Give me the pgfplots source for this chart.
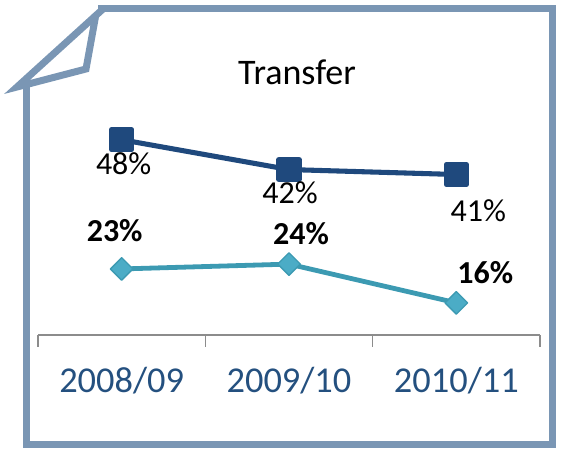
\documentclass[border=0pt]{standalone}
\usepackage{pgfplots}
\pgfplotsset{compat=1.18}
\usepackage{pgfplotstable}
\usepackage{fontspec}
\setmainfont{Carlito}

\definecolor{framecol}{HTML}{7A96B4}
\definecolor{darkser}{HTML}{1F497D}
\definecolor{tealline}{HTML}{3C9AB2}
\definecolor{tealmark}{HTML}{4BACC6}
\definecolor{ticktext}{HTML}{24507F}
\definecolor{axisgray}{HTML}{8C8C8C}

% x = category index, y = value, dx/dy = label offset in px (dy up is positive)
\pgfplotstableread{
x y dx dy
0 48 2 -24
1 42 1 -23
2 41 22 -36
}\darktab
\pgfplotstableread{
x y dx dy
0 23 -7 38
1 24 12 31
2 16 29 30
}\tealtab

\begin{document}
\begin{tikzpicture}
\useasboundingbox (0,0) rectangle (420.75pt,336.75pt);

% frame with folded corner (px coordinates, y down)
\begin{scope}[x=0.75pt, y=-0.75pt, shift={(0pt,336.75pt)}]
  \draw[framecol, line width=5.25pt, line join=miter]
    (26,82) -- (26,445) -- (552,445) -- (552,9) -- (98,9);
  \draw[framecol, line width=5.25pt, line join=miter]
    (103,9) -- (17,87) -- (86,69) -- (96,14);
  \node[font=\fontsize{27}{30}\selectfont] at (297,72) {Transfer};
\end{scope}

\begin{axis}[
  at={(28.5pt,85.5pt)}, anchor=south west,
  scale only axis, width=376.5pt, height=176.25pt,
  xmin=-0.5, xmax=2.5, ymin=8.7, ymax=56,
  axis x line*=bottom, axis y line=none,
  x axis line style={-, axisgray, line width=1pt},
  xtick={0,1,2},
  xticklabels={2008/09,2009/10,2010/11},
  major tick length=0pt,
  minor xtick={-0.5,0.5,1.5,2.5},
  minor tick length=9pt,
  tick align=outside,
  minor tick style={axisgray, line width=1pt},
  xticklabel style={anchor=center, yshift=-34pt, text=ticktext,
    font=\fontsize{27.3}{30}\selectfont},
  /pgf/number format/assume math mode=true,
  clip=false,
]
  \addplot[darkser, line width=3.8pt, line join=round,
    mark=square*, mark size=7.5pt, mark options={solid, fill=darkser},
    visualization depends on={\thisrow{dx} \as \dx},
    visualization depends on={\thisrow{dy} \as \dy},
    point meta=explicit,
    nodes near coords={\pgfmathprintnumber{\pgfplotspointmeta}\%},
    nodes near coords style={anchor=center, black,
      font=\fontsize{24}{28}\selectfont,
      xshift=\dx*0.75pt, yshift=\dy*0.75pt}]
    table[x=x, y=y, meta=y] {\darktab};
\end{axis}

\begin{axis}[
  at={(28.5pt,85.5pt)}, anchor=south west,
  scale only axis, width=376.5pt, height=176.25pt,
  xmin=-0.5, xmax=2.5, ymin=9.36, ymax=57.9,
  hide axis,
  /pgf/number format/assume math mode=true,
  clip=false,
]
  \addplot[tealline, line width=3.6pt, line join=round,
    mark=square*, mark size=6pt,
    mark options={solid, rotate=45, fill=tealmark, draw=tealline, line width=1pt},
    visualization depends on={\thisrow{dx} \as \dx},
    visualization depends on={\thisrow{dy} \as \dy},
    point meta=explicit,
    nodes near coords={\pgfmathprintnumber{\pgfplotspointmeta}\%},
    nodes near coords style={anchor=center, black,
      font=\bfseries\fontsize{24}{28}\selectfont,
      xshift=\dx*0.75pt, yshift=\dy*0.75pt}]
    table[x=x, y=y, meta=y] {\tealtab};
\end{axis}
\end{tikzpicture}
\end{document}
